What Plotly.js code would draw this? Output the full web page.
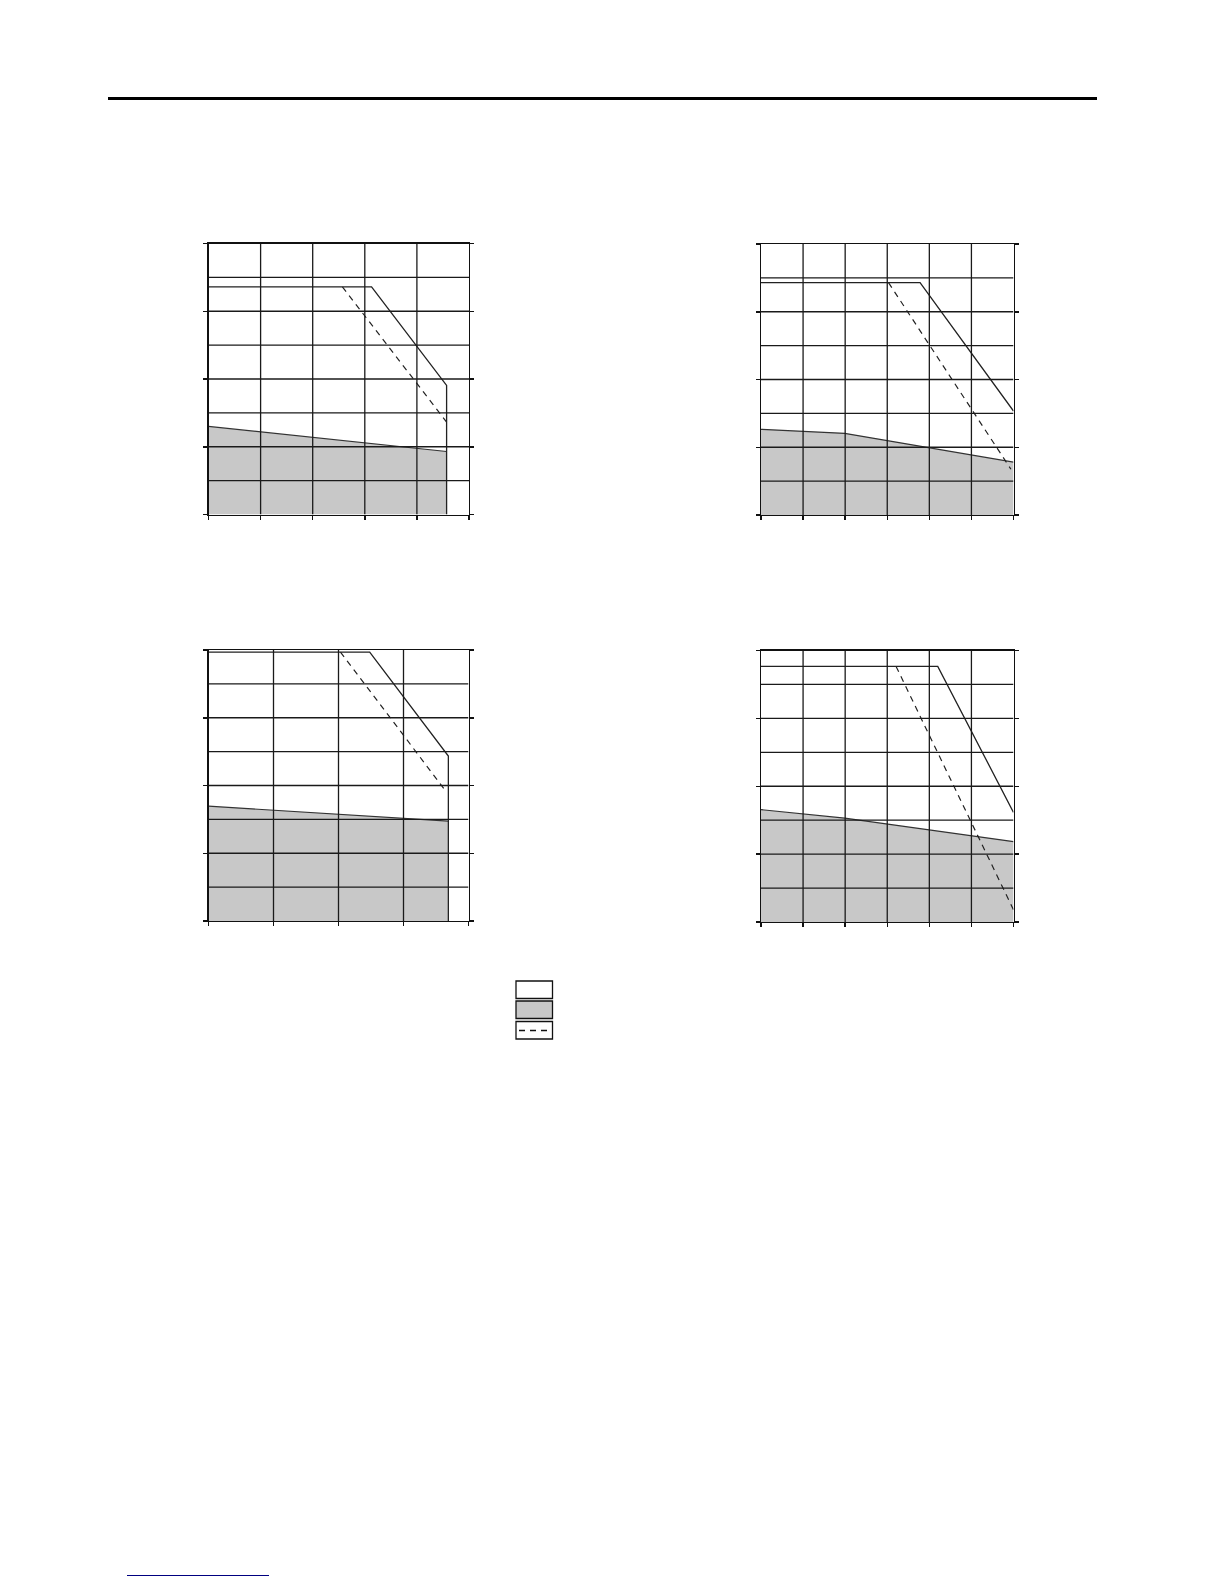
<!DOCTYPE html>
<html>
<head>
<meta charset="utf-8">
<script src="https://cdn.plot.ly/plotly-3.0.1.min.js"></script>
<style>
  html, body { margin: 0; padding: 0; background: #fff; }
  #page { width: 1224px; height: 1584px; }
</style>
</head>
<body>
<div id="page"></div>
<script>
// values are read in grid units (the charts carry no tick labels)
// the dashed curves share the flat top with the solid ones, so they start at their break point
var c1SolidX = [0, 3.13, 4.57, 4.57], c1SolidY = [6.72, 6.72, 3.81, 0];
var c1DashX = [2.57, 4.57],           c1DashY = [6.72, 2.73];
var c1FillX = [0, 4.57],              c1FillY = [2.60, 1.86];

var c2SolidX = [0, 3.78, 6.0],  c2SolidY = [6.86, 6.86, 3.07];
var c2DashX = [3.03, 5.94],     c2DashY = [6.86, 1.35];
var c2FillX = [0, 1.99, 6.0],   c2FillY = [2.53, 2.41, 1.56];

var c3SolidX = [0, 2.48, 3.69, 3.69], c3SolidY = [7.94, 7.94, 4.87, 0];
var c3DashX = [2.03, 3.66],           c3DashY = [7.94, 3.81];
var c3FillX = [0, 3.69],              c3FillY = [3.39, 2.95];

var c4SolidX = [0, 4.20, 6.0],  c4SolidY = [7.53, 7.53, 3.23];
var c4DashX = [3.21, 6.0],      c4DashY = [7.53, 0.36];
var c4FillX = [0, 1.99, 6.0],   c4FillY = [3.31, 3.06, 2.37];

var xCells = [5, 6, 4, 6];
var yCells = 8;
var yMajor = [0, 2, 4, 6, 8];

var W = 1224, H = 1584;
var px = function(x) { return x / W; };
var py = function(y) { return 1 - y / H; };

var boxes = [
  {x0: 208.5, x1: 469,    y0: 243.5, y1: 514.5},
  {x0: 761,   x1: 1013.5, y0: 244,   y1: 515},
  {x0: 208.5, x1: 468.5,  y0: 650,   y1: 921},
  {x0: 761,   x1: 1013.5, y0: 650.5, y1: 922}
];

var sets = [
  [c1FillX, c1FillY, c1DashX, c1DashY, c1SolidX, c1SolidY],
  [c2FillX, c2FillY, c2DashX, c2DashY, c2SolidX, c2SolidY],
  [c3FillX, c3FillY, c3DashX, c3DashY, c3SolidX, c3SolidY],
  [c4FillX, c4FillY, c4DashX, c4DashY, c4SolidX, c4SolidY]
];

var data = [], shapes = [];
var layout = {
  width: W, height: H,
  margin: {l: 0, r: 0, t: 0, b: 0},
  paper_bgcolor: '#fff',
  plot_bgcolor: '#fff',
  showlegend: false
};

sets.forEach(function(s, i) {
  var n = i + 1, sx = n === 1 ? '' : String(n);
  var xa = 'x' + sx, ya = 'y' + sx;
  var b = boxes[i], nx = xCells[i];
  var xt = [], k;
  for (k = 0; k <= nx; k++) xt.push(k);

  data.push({
    x: s[0], y: s[1], xaxis: xa, yaxis: ya, type: 'scatter', mode: 'lines',
    fill: 'tozeroy', fillcolor: '#c8c8c8',
    line: {color: '#333', width: 1.2}, hoverinfo: 'skip'
  });
  data.push({
    x: s[2], y: s[3], xaxis: xa, yaxis: ya, type: 'scatter', mode: 'lines',
    line: {color: '#222', width: 1.2, dash: '6px,5px'}, hoverinfo: 'skip'
  });
  data.push({
    x: s[4], y: s[5], xaxis: xa, yaxis: ya, type: 'scatter', mode: 'lines',
    line: {color: '#222', width: 1.3}, hoverinfo: 'skip'
  });

  layout['xaxis' + sx] = {
    domain: [px(b.x0), px(b.x1)], anchor: ya,
    range: [0, nx], showgrid: false, zeroline: false,
    showline: true, linecolor: '#111', linewidth: 1.2, mirror: true,
    tickvals: xt, ticks: 'outside', ticklen: 4, tickwidth: 1.5, tickcolor: '#111',
    showticklabels: false, fixedrange: true
  };
  layout['yaxis' + sx] = {
    domain: [py(b.y1), py(b.y0)], anchor: xa,
    range: [0, yCells], showgrid: false, zeroline: false,
    showline: true, linecolor: '#111', linewidth: 1.2, mirror: 'allticks',
    tickvals: yMajor, ticks: 'outside', ticklen: 4, tickwidth: 1.5, tickcolor: '#111',
    showticklabels: false, fixedrange: true
  };

  // grid drawn over the grey area, as in the original
  for (k = 1; k < nx; k++) {
    shapes.push({type: 'line', layer: 'above', xref: xa, yref: ya,
      x0: k, x1: k, y0: 0, y1: yCells, line: {color: '#1a1a1a', width: 1.3}});
  }
  for (k = 1; k < yCells; k++) {
    shapes.push({type: 'line', layer: 'above', xref: xa, yref: ya,
      x0: 0, x1: nx, y0: k, y1: k, line: {color: '#1a1a1a', width: 1.3}});
  }
});

// page rule at the top
shapes.push({type: 'line', xref: 'paper', yref: 'paper',
  x0: px(108), x1: px(1097), y0: py(98.5), y1: py(98.5),
  line: {color: '#000', width: 3}});

// key boxes
shapes.push({type: 'rect', xref: 'paper', yref: 'paper',
  x0: px(516), x1: px(552.5), y0: py(998.5), y1: py(981),
  fillcolor: '#fff', line: {color: '#111', width: 1.3}});
shapes.push({type: 'rect', xref: 'paper', yref: 'paper',
  x0: px(516), x1: px(552.5), y0: py(1018.5), y1: py(1001),
  fillcolor: '#c8c8c8', line: {color: '#111', width: 1.3}});
shapes.push({type: 'rect', xref: 'paper', yref: 'paper',
  x0: px(516), x1: px(552.5), y0: py(1039), y1: py(1021.5),
  fillcolor: '#fff', line: {color: '#111', width: 1.3}});
shapes.push({type: 'line', xref: 'paper', yref: 'paper',
  x0: px(519), x1: px(550), y0: py(1030.5), y1: py(1030.5),
  line: {color: '#111', width: 1.3, dash: '6px,5px'}});

// link underline near the foot of the page
shapes.push({type: 'line', xref: 'paper', yref: 'paper',
  x0: px(127), x1: px(269), y0: py(1575.5), y1: py(1575.5),
  line: {color: '#000080', width: 1}});

layout.shapes = shapes;

Plotly.newPlot('page', data, layout, {staticPlot: true});
</script>
</body>
</html>
